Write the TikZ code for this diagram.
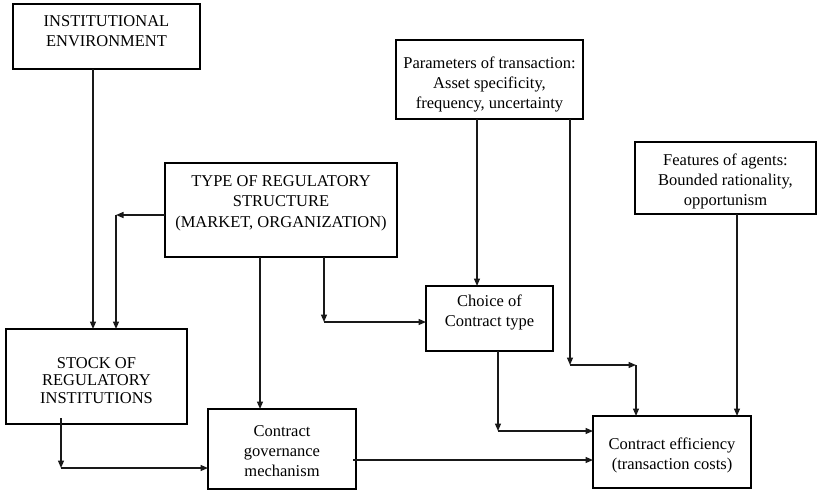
\documentclass[tikz,border=0pt]{standalone}
\usepackage{fontspec}
\setmainfont{Liberation Serif}
\usetikzlibrary{arrows.meta,calc}
\tikzset{
  box/.style={draw=black, line width=1.2pt, inner sep=0pt, outer sep=0pt,
    font=\fontsize{16.5}{20.3}\selectfont},
  arr/.style={draw=black!90, line width=1.3pt, -{Triangle[length=7.5pt,width=6pt]}},
}
% name, x1, y1, x2, y2, top padding, text
\newcommand\boxnode[7]{%
  \node[box, anchor=north west] (#1) at (#2,#3)
    {\parbox[t][\dimexpr#5pt-#3pt\relax][t]{\dimexpr#4pt-#2pt\relax}{\centering\vspace*{#6pt}#7}};}
\begin{document}
\begin{tikzpicture}[x=1pt,y=-1pt]
\useasboundingbox (0,0) rectangle (818,490);
\boxnode{inst}{13}{4}{200}{69}{11.5}{INSTITUTIONAL\\ ENVIRONMENT}
\boxnode{params}{396}{40}{583}{119}{16.4}{Parameters of transaction:\\ Asset specificity,\\ frequency, uncertainty}
\boxnode{type}{165}{163}{397}{257}{12.5}{TYPE OF REGULATORY\\ STRUCTURE\\ (MARKET, ORGANIZATION)}
\boxnode{feat}{635}{142}{816}{214}{11.4}{Features of agents:\\ Bounded rationality,\\ opportunism}
\boxnode{choice}{426}{286}{553}{351}{8.4}{Choice of\\ Contract type}
\boxnode{stock}{6}{329}{187}{424}{28.5}{\fontsize{16.5}{17.5}\selectfont STOCK OF\\ REGULATORY\\ INSTITUTIONS}
\boxnode{gov}{208}{409}{356}{489}{16.4}{Contract\\ governance\\ mechanism}
\boxnode{eff}{593}{416}{751}{488}{21.4}{Contract efficiency\\ (transaction costs)}

% bend points
\coordinate (k1) at (116,215);
\coordinate (k2) at (324,322);
\coordinate (k3) at (570,365);
\coordinate (k4) at (636,365);
\coordinate (k5) at (61,468);
\coordinate (k6) at (498,431);

% institutional environment -> stock
\draw[arr] (inst.south -| 93,0) -- (stock.north -| 93,0);
% type -> stock
\draw[arr] (type.west |- k1) -- (k1);
\draw[arr] (k1) -- (stock.north -| k1);
% type -> governance
\draw[arr] (type.south -| 260,0) -- (gov.north -| 260,0);
% type -> choice
\draw[arr] (type.south -| k2) -- (k2);
\draw[arr] (k2) -- (choice.west |- k2);
% parameters -> choice
\draw[arr] (params.south -| 477,0) -- (choice.north -| 477,0);
% parameters -> efficiency
\draw[arr] (params.south -| k3) -- (k3);
\draw[arr] (k3) -- (k4);
\draw[arr] (k4) -- (eff.north -| k4);
% features -> efficiency
\draw[arr] (feat.south -| 737,0) -- (eff.north -| 737,0);
% stock -> governance
\draw[arr] ($(stock.south -| k5)+(0,-6)$) -- (k5);
\draw[arr] (k5) -- (gov.west |- k5);
% choice -> efficiency
\draw[arr] (choice.south -| k6) -- (k6);
\draw[arr] (k6) -- (eff.west |- k6);
% governance -> efficiency
\draw[arr] ($(gov.east |- 0,460)+(-3,0)$) -- (eff.west |- 0,460);
\end{tikzpicture}
\end{document}
